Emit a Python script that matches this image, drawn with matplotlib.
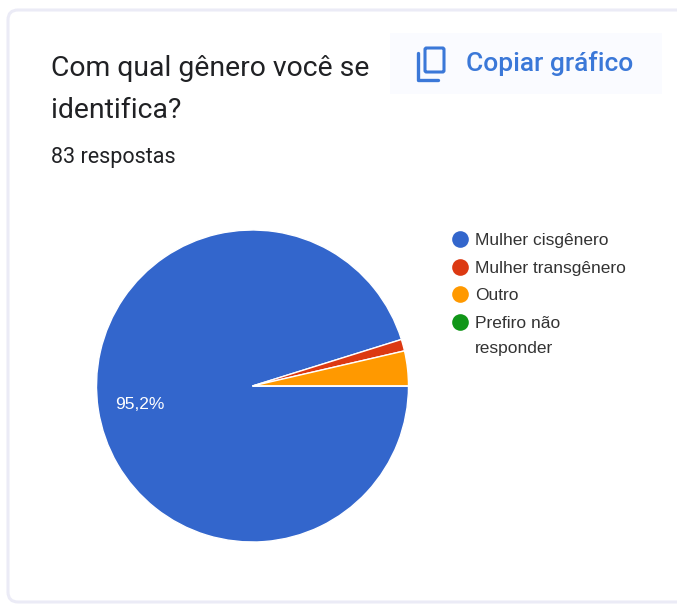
import matplotlib
matplotlib.use("Agg")
from matplotlib import pyplot as plt
from matplotlib.patches import FancyBboxPatch, Rectangle
from matplotlib.lines import Line2D

W, H = 677, 606

title_lines = ["Com qual gênero você se", "identifica?"]
subtitle = "83 respostas"
button_label = "Copiar gráfico"
categories = ["Mulher cisgênero", "Mulher transgênero", "Outro", "Prefiro não\nresponder"]
counts = [79, 1, 3, 0]
colors = ["#3366cc", "#dc3912", "#ff9900", "#109618"]
pie_label = "95,2%"

fig = plt.figure(figsize=(W / 100, H / 100), dpi=100, facecolor="white")

# page layer in pixel coordinates, y pointing down
page = fig.add_axes([0, 0, 1, 1])
page.set_xlim(0, W)
page.set_ylim(H, 0)
page.axis("off")

# card with a faint lavender edge
page.add_patch(FancyBboxPatch((8, 10), W + 40, 592, boxstyle="round,pad=0,rounding_size=10",
                              fc="white", ec="#ebebf6", lw=2.2))

page.text(51, 68, title_lines[0], fontsize=20.45, family="Roboto", color="#202124", va="center")
page.text(51, 111, title_lines[1], fontsize=20.45, family="Roboto", color="#202124", va="center")
page.text(51, 158, subtitle, fontsize=15.5, family="Roboto", color="#202124", va="center")

# copy button
page.add_patch(Rectangle((390, 33), 272, 61, fc="#fafbff", ec="none"))
page.add_patch(FancyBboxPatch((425, 48), 19, 24, boxstyle="round,pad=0,rounding_size=1.5",
                              fc="none", ec="#3b78d8", lw=2.2))
page.add_line(Line2D([418, 418, 438], [53, 80, 80], color="#3b78d8", lw=2.4, solid_capstyle="round"))
page.text(466, 63, button_label, fontsize=19, family="Roboto", weight="medium", color="#3b78d8", va="center")

# legend
legend_y = [239, 267, 294, 322]
for name, color, y in zip(categories, colors, legend_y):
    page.plot(459.5, y, "o", ms=12, color=color, mec="none")
    page.text(475, y + 1, name.split("\n")[0], fontsize=12.5, family="Liberation Sans", color="#333333", va="center")
    if "\n" in name:
        page.text(475, y + 26, name.split("\n")[1], fontsize=12.5, family="Liberation Sans", color="#333333", va="center")

# pie: centre (252.5, 386), radius 156 px
r = 156
cx, cy = 252.5, 386
ax = fig.add_axes([(cx - r) / W, 1 - (cy + r) / H, 2 * r / W, 2 * r / H])
ax.pie(counts, colors=colors, startangle=0, counterclock=False, radius=1,
       wedgeprops={"edgecolor": "white", "linewidth": 1.0})
ax.set_xlim(-1, 1)
ax.set_ylim(-1, 1)
ax.text(-0.88, -0.12, pie_label, fontsize=12.5, family="Liberation Sans", color="white", va="center")

fig.savefig("out.png", dpi=100)
